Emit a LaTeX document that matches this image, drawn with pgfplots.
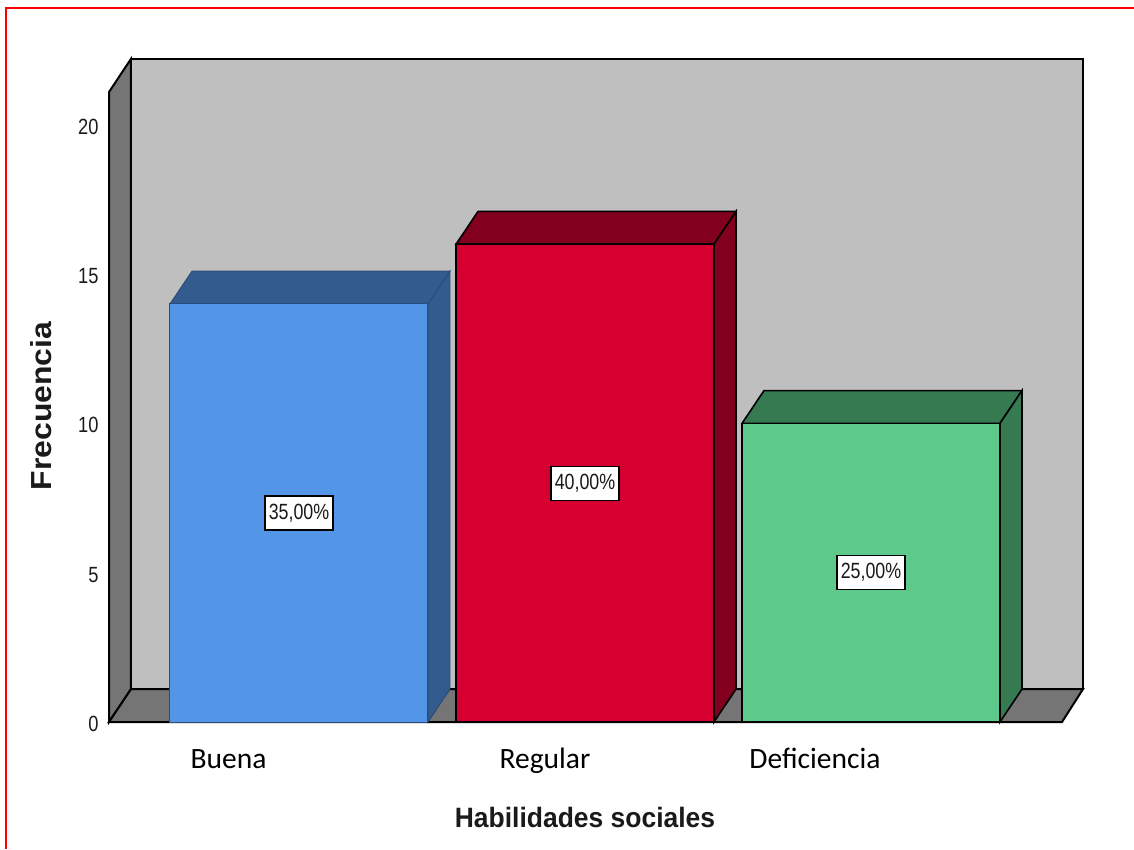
\documentclass[border=0pt]{standalone}
\usepackage{pgfplots}
\pgfplotsset{compat=1.18}
\usepackage{fontspec}
\setmainfont{Liberation Sans}
\newfontfamily\carlito{Carlito}
\definecolor{wallback}{HTML}{BFBFBF}
\definecolor{wallside}{HTML}{757575}
\definecolor{bluef}{HTML}{5395E6}
\definecolor{blued}{HTML}{345B8E}
\definecolor{redf}{HTML}{D5002F}
\definecolor{redd}{HTML}{82001E}
\definecolor{greenf}{HTML}{5DC98A}
\definecolor{greend}{HTML}{367A52}
\definecolor{txt}{HTML}{1A1A1A}
\begin{document}
\begin{tikzpicture}[x=1pt,y=1pt]
\path[use as bounding box] (0,0) rectangle (1134,849);
\draw[red,line width=2pt] (6,0) -- (6,841) -- (1134,841);
\begin{axis}[
  at={(109pt,127pt)}, anchor=south west,
  scale only axis, width=953pt, height=630pt,
  xmin=-0.6643, xmax=2.668, ymin=0, ymax=21.1,
  clip=false,
  axis line style={draw=none},
  major tick length=0pt,
  xtick={-0.2465,0.8601,1.8042},
  xticklabels={Buena,Regular,Deficiencia},
  xticklabel style={font=\carlito\fontsize{29.5}{31}\selectfont, text=black, anchor=center, text height=20pt, text depth=6pt, yshift=-39pt},
  ytick={0,5,10,15,20},
  /pgf/number format/assume math mode=true,
  yticklabel style={font=\fontsize{22}{24}\selectfont, text=txt, xscale=0.83, anchor=east, inner xsep=0pt, xshift=-12.5pt, yshift=-2pt},
  xlabel={Habilidades sociales},
  ylabel={Frecuencia},
  xlabel style={font=\bfseries\fontsize{28}{30}\selectfont, text=txt, xscale=0.945, at={(rel axis cs:0.4995,-0.1508)}, anchor=center},
  ylabel style={font=\bfseries\fontsize{29}{31}\selectfont, text=txt, xscale=1.1, at={(rel axis cs:-0.0714,0.5016)}, anchor=center},
]
% back wall, side wall, floor
\addplot[fill=wallback,draw=black,line width=2pt,no marks] coordinates {(-0.5874,1.1)(-0.5874,22.21)(2.7413,22.21)(2.7413,1.1)} -- cycle;
\addplot[fill=wallside,draw=black,line width=2pt,no marks] coordinates {(-0.6643,0)(-0.6643,21.1)(-0.5874,22.21)(-0.5874,1.1)} -- cycle;
\addplot[fill=wallside,draw=black,line width=2pt,no marks] coordinates {(-0.6643,0)(-0.5874,1.1)(2.7413,1.1)(2.668,0)} -- cycle;
% Buena
\addplot[fill=blued,draw=blued!85!black,line width=1pt,no marks] coordinates {(-0.451,14)(-0.374,15.1)(0.528,15.1)(0.451,14)} -- cycle;
\addplot[fill=blued,draw=blued!85!black,line width=1pt,no marks] coordinates {(0.451,0)(0.451,14)(0.528,15.1)(0.528,1.1)} -- cycle;
\addplot[ybar,bar width=258pt,bar shift=0pt,fill=bluef,draw=blued!85!black,line width=1pt] coordinates {(0,14)};
% Regular
\addplot[fill=redd,draw=black,line width=1.6pt,no marks] coordinates {(0.549,16)(0.626,17.1)(1.528,17.1)(1.451,16)} -- cycle;
\addplot[fill=redd,draw=black,line width=1.6pt,no marks] coordinates {(1.451,0)(1.451,16)(1.528,17.1)(1.528,1.1)} -- cycle;
\addplot[ybar,bar width=258pt,bar shift=0pt,fill=redf,draw=black,line width=1.6pt] coordinates {(1,16)};
% Deficiencia
\addplot[fill=greend,draw=black,line width=1.6pt,no marks] coordinates {(1.549,10)(1.626,11.1)(2.528,11.1)(2.451,10)} -- cycle;
\addplot[fill=greend,draw=black,line width=1.6pt,no marks] coordinates {(2.451,0)(2.451,10)(2.528,11.1)(2.528,1.1)} -- cycle;
\addplot[ybar,bar width=258pt,bar shift=0pt,fill=greenf,draw=black,line width=1.6pt] coordinates {(2,10)};
% value labels
\tikzset{vl/.style={draw=black,fill=white,line width=1.2pt,minimum width=68pt,minimum height=34pt,inner sep=0pt,anchor=center}}
\node[vl] at (axis cs:0,7) {};
\node[text=txt,font=\fontsize{22}{24}\selectfont,xscale=0.81,anchor=center] at (axis cs:0,7) {35,00\%};
\node[vl] at (axis cs:1,8) {};
\node[text=txt,font=\fontsize{22}{24}\selectfont,xscale=0.81,anchor=center] at (axis cs:1,8) {40,00\%};
\node[vl] at (axis cs:2,5) {};
\node[text=txt,font=\fontsize{22}{24}\selectfont,xscale=0.81,anchor=center] at (axis cs:2,5) {25,00\%};
\end{axis}
\end{tikzpicture}
\end{document}
